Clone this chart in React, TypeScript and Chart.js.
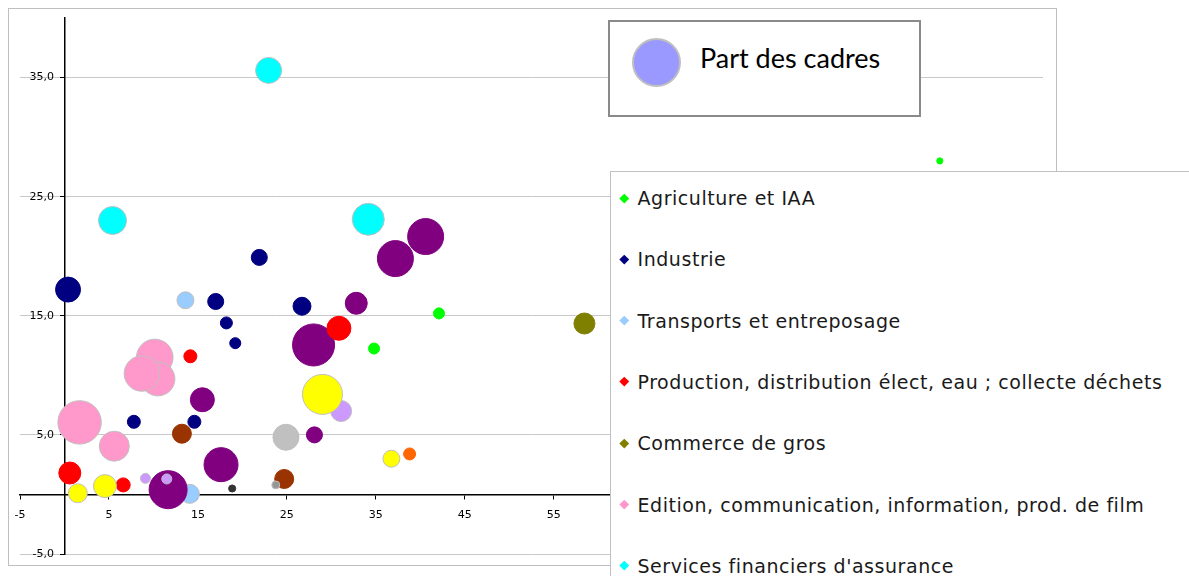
import React, { useEffect, useRef } from 'react';
import { Chart, registerables } from 'chart.js';

Chart.register(...registerables);

// ---- Data -------------------------------------------------------------
// Each point: [x, y, part des cadres]
const SERIES_NAMES = [
  'Agriculture et IAA',
  'Industrie',
  'Transports et entreposage',
  'Production, distribution élect, eau ; collecte déchets',
  'Commerce de gros',
  'Edition, communication, information, prod. de film',
  "Services financiers d'assurance",
  'Série 8',
  'Série 9',
  'Série 10',
  'Série 11',
  'Série 12',
  'Série 13',
  'Série 14',
  'Série 15',
];

const SERIES_COLORS = [
  '#00FF00',
  '#000080',
  '#99CCFF',
  '#FF0000',
  '#808000',
  '#FF99CC',
  '#00FFFF',
  '#800080',
  '#FFFF00',
  '#993300',
  '#C0C0C0',
  '#CC99FF',
  '#333333',
  '#969696',
  '#FF6600',
];

const agriculture = [[34.8, 12.25, 3.9], [42.1, 15.2, 3.9], [98.4, 28.0, 1.2]];
const industrie = [
  [21.9, 19.9, 8.2], [0.4, 17.2, 19.9], [17.0, 16.2, 8.2], [18.2, 14.4, 4.6],
  [19.2, 12.7, 3.9], [26.7, 15.8, 10.3], [7.8, 6.1, 5.4], [14.6, 6.1, 5.4],
];
const transports = [[13.6, 16.3, 9.2], [14.1, 0.05, 11.5]];
const production = [[30.85, 13.95, 18.4], [14.15, 11.6, 5.4], [0.6, 1.8, 15.4], [6.6, 0.8, 6.3]];
const commerceGros = [[58.45, 14.35, 14.1]];
const edition = [[10.15, 11.5, 42.7], [10.5, 9.7, 36.9], [8.7, 10.15, 40.0], [1.7, 6.05, 60.1], [5.6, 4.05, 28.7]];
const servicesFinanciers = [[22.95, 35.6, 21.6], [5.4, 23.0, 25.0], [34.15, 23.1, 32.7]];
const serie8 = [
  [40.6, 21.65, 41.3], [37.2, 19.8, 41.3], [32.8, 16.05, 15.4], [28.0, 12.55, 56.3],
  [15.5, 7.95, 18.4], [17.6, 2.5, 36.9], [11.65, 0.4, 46.1], [28.1, 5.0, 8.2],
];
const serie9 = [[29.0, 8.4, 51.0], [1.5, 0.1, 11.5], [4.55, 0.7, 16.9], [36.75, 3.0, 9.2]];
const serie10 = [[13.2, 5.1, 11.5], [24.7, 1.3, 11.5]];
const serie11 = [[24.9, 4.8, 21.6]];
const serie12 = [[31.1, 7.0, 14.1], [9.1, 1.35, 3.2], [11.5, 1.3, 3.2]];
const serie13 = [[18.85, 0.5, 1.6]];
const serie14 = [[23.75, 0.8, 2.0]];
const serie15 = [[38.8, 3.4, 4.6]];

const SERIES_POINTS = [
  agriculture, industrie, transports, production, commerceGros, edition, servicesFinanciers,
  serie8, serie9, serie10, serie11, serie12, serie13, serie14, serie15,
];

// painting order of the series, from bottom to top
const DRAW_ORDER = [0, 1, 2, 7, 3, 4, 5, 6, 9, 10, 11, 8, 12, 13, 14];

const X_TICKS = [-5, 5, 15, 25, 35, 45, 55, 65, 75, 85, 95, 105];
const Y_TICKS = [-5, 5, 15, 25, 35];
const X_MIN = -5;
const X_MAX = 110;
const Y_MIN = -5;
const Y_MAX = 40;

const BUBBLE_LEGEND_LABEL = 'Part des cadres';

// ---- Styling helpers ---------------------------------------------------
const RADIUS_FACTOR = 2.8;
const LIGHT_COLORS = new Set(['#99CCFF', '#FF99CC', '#00FFFF', '#FFFF00', '#C0C0C0', '#CC99FF', '#969696']);

const framePlugin = {
  id: 'frame',
  beforeDraw(chart: any) {
    const ctx = chart.ctx;
    ctx.save();
    ctx.strokeStyle = '#BFBFBF';
    ctx.lineWidth = 1;
    ctx.strokeRect(8.5, 8.5, 1048, 557);
    ctx.restore();
  },
};

export default function App() {
  const canvasRef = useRef<HTMLCanvasElement | null>(null);

  useEffect(() => {
    if (!canvasRef.current) return;
    const n = SERIES_POINTS.length;
    const datasets = SERIES_POINTS.map((pts, i) => {
      const color = SERIES_COLORS[i];
      return {
        label: SERIES_NAMES[i],
        data: pts.map((p) => ({ x: p[0], y: p[1], r: Math.sqrt(p[2]) * RADIUS_FACTOR })),
        backgroundColor: color,
        borderColor: LIGHT_COLORS.has(color) ? '#BFBFBF' : color,
        borderWidth: 1,
        order: n - DRAW_ORDER.indexOf(i),
      };
    });

    const chart = new Chart(canvasRef.current, {
      type: 'bubble',
      data: { datasets },
      options: {
        responsive: false,
        animation: false,
        events: [],
        layout: { autoPadding: false, padding: { left: 20, top: 18, right: 1189 - 1043, bottom: 576 - 554 } },
        plugins: {
          legend: { display: false },
          tooltip: { enabled: false },
          title: { display: false },
        },
        scales: {
          x: {
            type: 'linear',
            min: X_MIN,
            max: X_MAX,
            position: { y: 0 },
            afterBuildTicks: (axis: any) => {
              axis.ticks = X_TICKS.map((v) => ({ value: v }));
            },
            grid: { drawOnChartArea: false, drawTicks: true, tickLength: 4, tickColor: '#000', tickWidth: 1 },
            border: { display: true, color: '#000', width: 1.5 },
            ticks: {
              autoSkip: false,
              maxRotation: 0,
              padding: 10,
              color: '#000',
              font: { family: 'DejaVu Sans', size: 11 },
              callback: (v: any) => String(v),
            },
          },
          y: {
            type: 'linear',
            min: Y_MIN,
            max: Y_MAX,
            position: { x: 0 },
            afterBuildTicks: (axis: any) => {
              axis.ticks = Y_TICKS.map((v) => ({ value: v }));
            },
            grid: { color: '#C8C8C8', lineWidth: 1, drawTicks: true, tickLength: 4, tickColor: '#000' },
            border: { display: true, color: '#000', width: 1.5 },
            ticks: {
              autoSkip: false,
              padding: 6,
              color: '#000',
              font: { family: 'DejaVu Sans', size: 11 },
              callback: (v: any) => Number(v).toFixed(1).replace('.', ',') + '   ',
            },
          },
        },
      } as any,
      plugins: [framePlugin],
    });
    return () => chart.destroy();
  }, []);

  const rowStart = 198;
  const rowStep = 61.3;

  return (
    <div style={{ position: 'absolute', left: 0, top: 0, width: 1189, height: 576, overflow: 'hidden', background: '#fff' }}>
      <canvas ref={canvasRef} width={1189} height={576} style={{ position: 'absolute', left: 0, top: 0, width: 1189, height: 576 }} />
      {/* bubble size legend */}
      <div
        style={{
          position: 'absolute', left: 608, top: 20, width: 313, height: 97,
          border: '2px solid #8A8A8A', boxSizing: 'border-box', background: '#fff',
        }}
      >
        <div
          style={{
            position: 'absolute', left: 22, top: 16, width: 49, height: 49, borderRadius: '50%',
            background: '#9999FF', border: '2px solid #BFBFBF', boxSizing: 'border-box',
          }}
        />
        <div
          style={{
            position: 'absolute', left: 90, top: 22, fontFamily: 'Lato', fontSize: 27, lineHeight: '27px',
            color: '#000', whiteSpace: 'nowrap',
          }}
        >
          {BUBBLE_LEGEND_LABEL}
        </div>
      </div>
      {/* series legend */}
      <div
        style={{
          position: 'absolute', left: 610, top: 171, width: 640, height: 600,
          border: '1px solid #C0C0C0', boxSizing: 'border-box', background: '#fff',
        }}
      >
        {SERIES_NAMES.map((name, i) => (
          <div
            key={name}
            style={{
              position: 'absolute', left: 0, top: rowStart + i * rowStep - 171 - 1 - 15, height: 30,
              whiteSpace: 'nowrap',
            }}
          >
            <div
              style={{
                position: 'absolute', left: 9.5, top: 11.5, width: 6.5, height: 6.5,
                background: SERIES_COLORS[i], transform: 'rotate(45deg)',
              }}
            />
            <span
              style={{
                position: 'absolute', left: 26.5, top: 0, lineHeight: '30px',
                fontFamily: 'DejaVu Sans', fontSize: 19, letterSpacing: 0.55, color: '#1A1A1A',
              }}
            >
              {name}
            </span>
          </div>
        ))}
      </div>
    </div>
  );
}
